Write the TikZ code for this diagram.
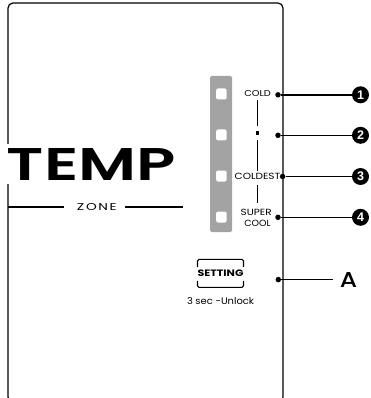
\documentclass[tikz,border=0pt]{standalone}
\usepackage{fontspec}
\setmainfont{Poppins}
\newfontfamily\numfont{Liberation Sans}
\newfontfamily\popsemi{Poppins SemiBold}
\newfontfamily\popmed{Poppins Medium}
\usepackage{graphicx}
\usetikzlibrary{calc}
\newcommand{\fitt}[3]{\resizebox{#1pt}{#2pt}{#3}}
\begin{document}
\begin{tikzpicture}[x=1pt,y=-1pt,
  lbl/.style={inner sep=0pt, outer sep=0pt},
  dotn/.style={circle, fill=black, inner sep=0pt, minimum size=5.5pt},
  numc/.style={circle, fill=black, text=white, inner sep=0pt, minimum size=17pt, font=\numfont\bfseries\fontsize{12.5}{12.5}\selectfont},
  conn/.style={line width=1.5pt},
  thinl/.style={line width=0.8pt},
  zline/.style={line width=1.4pt},
  frame/.style={line width=1.2pt, rounded corners=5pt},
  ledstrip/.style={fill=black!36, rounded corners=1.5pt},
  led/.style={fill=white, rounded corners=1.5pt, inner sep=0pt, minimum width=10.5pt, minimum height=11pt},
  btnline/.style={line width=1.1pt, rounded corners=1.5pt},
]
\useasboundingbox (0,0) rectangle (371,398);
\clip (0,0) rectangle (371,398);
\draw[frame] (8,3) rectangle (283,402);

% TEMP ZONE
\node[lbl, fill=white, inner xsep=2pt, inner ysep=3.5pt] (temp) at (91.5,164) {\fitt{169}{32}{\popsemi TEMP}};
\node[lbl] (zone) at (96,207.5) {\fitt{38}{7}{\addfontfeature{LetterSpace=12}ZONE\kern-0.12em}};
\coordinate (zl) at (8,207);
\coordinate (zr) at (183,207);
\draw[zline] (zl) -- ($(zone.west |- zl)+(-13,0)$);
\draw[zline] ($(zone.east |- zr)+(10,0)$) -- (zr);

% LED strip
\fill[ledstrip] (210,76) rectangle (232,232);
\node[led] (l1) at (221.3,94) {};
\node[led] (l2) at (221.3,135) {};
\node[led] (l3) at (221.3,176) {};
\node[led] (l4) at (221.3,217) {};

% labels
\node[lbl] (cold) at (257.5,93.7) {\fitt{26.5}{6}{COLD}};
\node[lbl] (coldest) at (257.5,176.6) {\fitt{45.7}{6.3}{COLDEST}};
\node[lbl] (super) at (256.2,212.2) {\fitt{31}{6.3}{SUPER}};
\node[lbl] (cool) at (257.5,223.5) {\fitt{26.4}{6.3}{COOL}};

\node[fill=black, inner sep=0pt, minimum size=3.5pt] (sq) at (257.5,133) {};
\draw[thinl] ($(cold.south)+(0,3.3)$) -- ($(sq.north)+(0,-5)$);
\draw[thinl] ($(sq.south)+(0,5)$) -- ($(coldest.north)+(0,-2.3)$);
\draw[thinl] ($(coldest.south)+(0,5)$) -- ($(coldest.south |- super.north)+(0,-6)$);

% dots and numbers
\node[dotn] (d1) at (278,94.8) {};
\node[dotn] (d2) at (278,135.3) {};
\node[dotn] (d3) at (282.6,176.5) {};
\node[dotn] (d4) at (278,217.3) {};
\node[numc] (n1) at (360.5,94.8) {1};
\node[numc] (n2) at (360.5,135.3) {2};
\node[numc] (n3) at (360.5,176.5) {3};
\node[numc] (n4) at (360.5,217.3) {4};
\draw[conn] (d1) -- (n1);
\draw[conn] (d2) -- (n2);
\draw[conn] (d3) -- (n3);
\draw[conn] (d4) -- (n4);

% setting button
\node[lbl, minimum width=45pt, minimum height=28pt] (btn) at (220.5,273.3) {\fitt{46}{6.6}{\bfseries SETTING}};
\draw[btnline] ($(btn.north west)+(0,7.5)$) -- (btn.north west) -- (btn.north east) -- ($(btn.north east)+(0,7.5)$);
\draw[btnline] ($(btn.south west)+(0,-6.5)$) -- (btn.south west) -- (btn.south east) -- ($(btn.south east)+(0,-6.5)$);
\node[lbl] (unlock) at (220.5,301.5) {\fitt{67}{7}{3 sec -Unlock}};

\node[dotn] (dA) at (278.3,279.6) {};
\node[lbl] (A) at (348.6,279.6) {\fitt{17.3}{15}{\popmed A}};
\draw[conn] (dA) -- ($(A.west)+(-7,0)$);
\end{tikzpicture}
\end{document}
